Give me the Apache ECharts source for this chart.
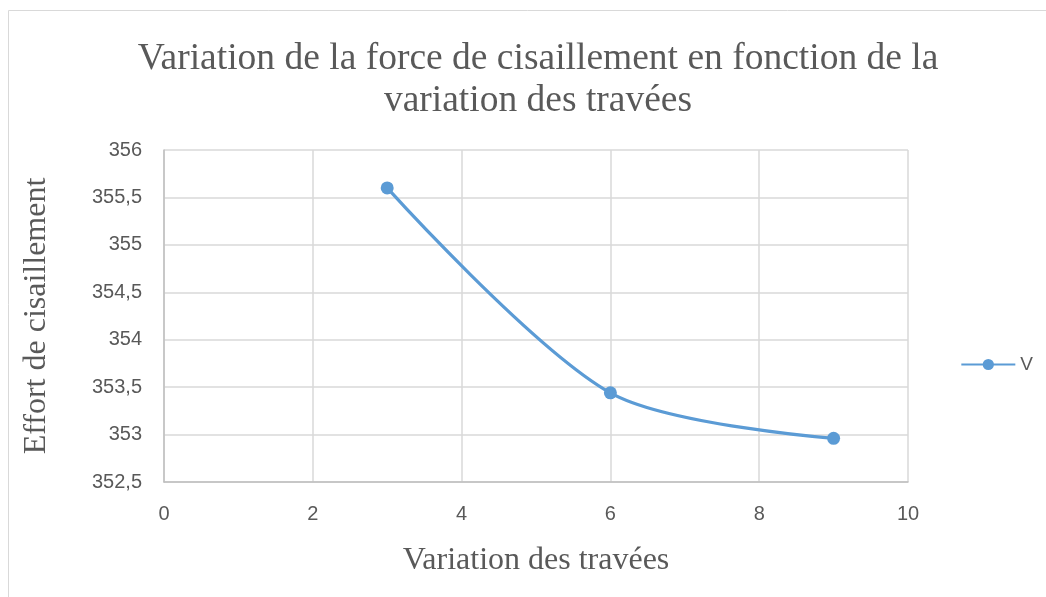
<!DOCTYPE html>
<html><head><meta charset="utf-8">
<script src="https://cdn.jsdelivr.net/npm/echarts@6/dist/echarts.min.js"></script>
<style>html,body{margin:0;padding:0;background:#fff}#c{width:1046px;height:597px}</style>
</head><body><div id="c"></div>
<script>
const spans = [3, 6, 9];
const shearV = [355.6, 353.44, 352.96];
const seriesName = 'V';
const titleText = 'Variation de la force de cisaillement en fonction de la\nvariation des travées';
const xName = 'Variation des travées';
const yName = 'Effort de cisaillement';

const chart = echarts.init(document.getElementById('c'));
chart.setOption({
  animation: false,
  graphic: [{type:'rect', shape:{x:8.5,y:10.5,width:1100,height:700}, style:{fill:'none', stroke:'#d9d9d9', lineWidth:1}, silent:true}],
  title: {text: titleText, left: 533, textAlign: 'center', top: 33,
    textStyle: {fontFamily: 'Liberation Serif', fontSize: 37.5, fontWeight: 'normal', color: '#595959', lineHeight: 42}},
  legend: {right: 8, top: 350, orient: 'vertical', itemWidth: 54, itemHeight: 14, itemGap: 5,
    textStyle: {fontFamily: 'Liberation Sans', fontSize: 19, color: '#595959'},
    data: [seriesName]},
  grid: {left: 164, right: 138, top: 150, bottom: 115},
  xAxis: {type: 'value', min: 0, max: 10, interval: 2,
    name: xName, nameLocation: 'middle', nameGap: 63,
    nameTextStyle: {fontFamily: 'Liberation Serif', fontSize: 32, color: '#595959'},
    axisLine: {lineStyle: {color: '#bfbfbf', width: 1.5}}, axisTick: {show: false},
    axisLabel: {fontFamily: 'Liberation Sans', fontSize: 20, color: '#595959', margin: 22},
    splitLine: {lineStyle: {color: '#d9d9d9', width: 1.5}}},
  yAxis: {type: 'value', min: 352.5, max: 356, interval: 0.5,
    name: yName, nameLocation: 'middle', nameGap: 111,
    nameTextStyle: {fontFamily: 'Liberation Serif', fontSize: 32, color: '#595959'},
    axisLine: {show: true, lineStyle: {color: '#bfbfbf', width: 1.5}}, axisTick: {show: false},
    axisLabel: {fontFamily: 'Liberation Sans', fontSize: 20, color: '#595959', margin: 22,
      formatter: v => String(v).replace('.', ',')},
    splitLine: {lineStyle: {color: '#d9d9d9', width: 1.5}}},
  series: [{name: seriesName, type: 'line', smooth: 0.3,
    data: spans.map((x, i) => [x, shearV[i]]),
    symbol: 'circle', symbolSize: 13,
    lineStyle: {color: '#5b9bd5', width: 3.2},
    itemStyle: {color: '#5b9bd5'}}]
});
</script></body></html>
